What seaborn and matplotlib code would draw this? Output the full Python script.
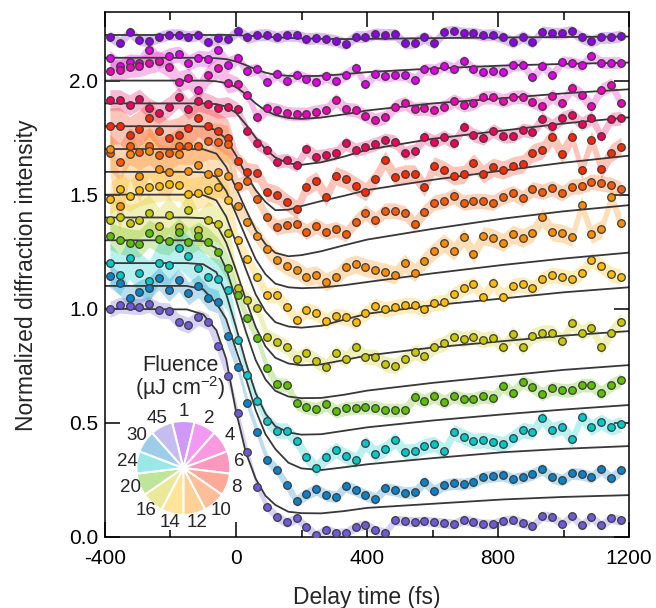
import numpy as np
import matplotlib
matplotlib.use("Agg")
import matplotlib.pyplot as plt
import seaborn as sns
from matplotlib.ticker import MultipleLocator

sns.set_theme(style="ticks")
plt.rcParams['font.family'] = ['Liberation Sans', 'DejaVu Sans']
plt.rcParams['mathtext.fontset'] = 'custom'
plt.rcParams['mathtext.rm'] = 'Liberation Sans'
plt.rcParams['mathtext.it'] = 'Liberation Sans:italic'

# ---------------- data ----------------
delay_fs = [-385, -355, -325, -295, -265, -235, -205, -175, -145, -115, -85, -55, -25,
            5, 35, 65, 95, 125, 155, 185, 215, 245, 275, 305, 335, 365, 395, 425, 455,
            485, 515, 545, 575, 605, 635, 665, 695, 725, 755, 785, 815, 845, 875, 905,
            935, 965, 995, 1025, 1055, 1085, 1115, 1145, 1175]

fluences = [1, 2, 4, 6, 8, 10, 12, 14, 16, 20, 24, 30, 45]
offsets = [1.2, 1.1, 1.0, 0.9, 0.8, 0.7, 0.6, 0.5, 0.4, 0.3, 0.2, 0.1, 0.0]
colors = ["#8B00E8", "#DD00E6", "#F000B4", "#F0005A", "#FF2A00", "#FF5A00", "#FF8C00",
          "#FFBB00", "#C8C800", "#5CBF00", "#00C8C8", "#0A82C8", "#6E5AD7"]

int_f1 = [0.993, 0.967, 1.012, 0.978, 0.975, 0.990, 1.002, 1.002, 0.993, 1.000, 0.968, 0.987, 0.981,
          1.018, 0.989, 1.000, 1.002, 0.990, 0.999, 0.998, 0.983, 0.987, 0.983, 0.975, 0.961, 0.993, 0.993,
          1.005, 1.002, 1.003, 0.964, 0.967, 0.990, 0.964, 1.012, 1.016, 1.008, 1.008, 0.999, 1.002,
          0.989, 0.968, 0.993, 0.968, 1.014, 1.008, 1.008, 1.016, 0.989, 0.972, 0.989, 0.989, 0.996]
int_f2 = [0.998, 0.964, 0.983, 0.979, 1.035, 0.988, 1.008, 1.017, 0.979, 0.998, 0.994, 1.032, 0.970,
          0.998, 0.942, 0.951, 0.896, 0.929, 0.899, 0.925, 0.908, 0.896, 0.918, 0.900, 0.925, 0.954, 0.886,
          0.929, 0.918, 0.925, 0.925, 0.904, 0.949, 0.947, 0.966, 0.953, 0.985, 0.949, 0.937, 0.944,
          0.937, 0.967, 0.970, 0.915, 0.966, 0.925, 0.983, 0.979, 0.967, 1.008, 0.979, 0.979, 0.979]
int_f4 = [1.044, 1.047, 1.059, 1.062, 1.076, 1.086, 1.059, 0.996, 1.010, 0.959, 1.025, 1.054, 0.990,
          0.986, 0.937, 0.839, 0.879, 0.871, 0.857, 0.854, 0.854, 0.864, 0.871, 0.915, 0.875, 0.871, 0.846,
          0.828, 0.839, 0.886, 0.901, 0.875, 0.879, 0.871, 0.886, 0.912, 0.893, 0.901, 0.927, 0.927,
          0.912, 0.927, 0.930, 0.908, 0.889, 0.933, 0.904, 0.967, 0.937, 0.889, 0.959, 0.981, 0.904]
int_f6 = [1.015, 1.015, 0.993, 1.018, 0.979, 0.957, 0.986, 1.026, 0.975, 1.012, 0.998, 0.979, 0.985,
          0.975, 0.879, 0.825, 0.796, 0.745, 0.752, 0.730, 0.799, 0.767, 0.774, 0.782, 0.825, 0.796, 0.808,
          0.822, 0.840, 0.832, 0.782, 0.793, 0.852, 0.832, 0.854, 0.828, 0.896, 0.862, 0.847, 0.881,
          0.857, 0.857, 0.884, 0.876, 0.931, 0.901, 0.935, 0.950, 0.911, 0.935, 0.857, 0.931, 0.935]
int_f8 = [1.000, 1.003, 0.960, 0.990, 1.035, 0.980, 0.947, 0.960, 0.991, 1.035, 1.000, 0.980, 0.950,
          0.849, 0.801, 0.794, 0.713, 0.700, 0.667, 0.636, 0.735, 0.761, 0.691, 0.783, 0.767, 0.740, 0.713,
          0.769, 0.852, 0.779, 0.791, 0.791, 0.732, 0.826, 0.808, 0.783, 0.789, 0.840, 0.791, 0.820,
          0.808, 0.826, 0.835, 0.882, 0.896, 0.954, 0.878, 0.952, 0.808, 0.940, 0.811, 0.882, 0.911]
int_f10 = [0.984, 0.945, 1.013, 0.989, 1.013, 0.974, 0.984, 1.013, 1.013, 1.013, 1.036, 1.033, 1.022,
           0.840, 0.860, 0.780, 0.700, 0.657, 0.667, 0.671, 0.638, 0.663, 0.638, 0.648, 0.628, 0.682, 0.721,
           0.689, 0.730, 0.730, 0.718, 0.671, 0.725, 0.765, 0.774, 0.794, 0.765, 0.772, 0.772, 0.765,
           0.791, 0.806, 0.784, 0.824, 0.813, 0.828, 0.806, 0.835, 0.838, 0.857, 0.850, 0.843, 0.824]
int_f12 = [1.100, 0.850, 1.080, 0.980, 1.090, 1.013, 1.000, 1.080, 1.005, 1.030, 0.990, 1.000, 0.980,
           0.850, 0.780, 0.720, 0.660, 0.614, 0.587, 0.570, 0.540, 0.548, 0.518, 0.538, 0.581, 0.596, 0.581,
           0.570, 0.560, 0.548, 0.599, 0.558, 0.611, 0.653, 0.687, 0.653, 0.713, 0.640, 0.720, 0.711,
           0.690, 0.726, 0.711, 0.731, 0.801, 0.737, 0.731, 0.713, 0.853, 0.726, 0.748, 0.889, 0.775]
int_f14 = [0.980, 1.024, 0.996, 1.021, 1.032, 1.039, 1.047, 1.042, 1.002, 1.009, 1.021, 1.035, 0.977,
           0.800, 0.720, 0.640, 0.560, 0.560, 0.509, 0.450, 0.494, 0.480, 0.446, 0.469, 0.462, 0.443, 0.480,
           0.512, 0.497, 0.506, 0.515, 0.515, 0.499, 0.526, 0.528, 0.563, 0.589, 0.607, 0.553, 0.611,
           0.553, 0.600, 0.607, 0.589, 0.630, 0.648, 0.640, 0.632, 0.658, 0.713, 0.687, 0.651, 0.640]
int_f16 = [0.989, 1.000, 0.976, 0.989, 1.020, 0.963, 1.011, 0.960, 1.033, 0.945, 0.990, 0.970, 0.930,
           0.689, 0.640, 0.602, 0.477, 0.455, 0.433, 0.379, 0.404, 0.371, 0.346, 0.404, 0.379, 0.433, 0.389,
           0.389, 0.357, 0.350, 0.379, 0.409, 0.393, 0.433, 0.448, 0.477, 0.466, 0.477, 0.463, 0.473,
           0.433, 0.489, 0.431, 0.480, 0.495, 0.495, 0.460, 0.539, 0.495, 0.517, 0.431, 0.495, 0.543]
int_f20 = [1.019, 1.001, 0.990, 0.985, 1.030, 1.004, 0.995, 1.038, 0.994, 1.020, 0.994, 0.950, 0.880,
           0.760, 0.658, 0.570, 0.441, 0.368, 0.365, 0.285, 0.268, 0.260, 0.281, 0.251, 0.263, 0.266, 0.270,
           0.267, 0.256, 0.256, 0.256, 0.314, 0.296, 0.317, 0.292, 0.317, 0.303, 0.303, 0.317, 0.310,
           0.361, 0.332, 0.380, 0.358, 0.326, 0.351, 0.343, 0.343, 0.365, 0.365, 0.332, 0.365, 0.387]
int_f24 = [0.999, 0.948, 1.021, 0.955, 0.922, 1.002, 0.990, 1.065, 1.030, 0.980, 0.938, 0.930, 0.880,
           0.663, 0.509, 0.396, 0.308, 0.266, 0.266, 0.221, 0.151, 0.100, 0.148, 0.180, 0.154, 0.136, 0.210,
           0.165, 0.185, 0.224, 0.173, 0.176, 0.198, 0.207, 0.176, 0.258, 0.239, 0.220, 0.224, 0.217,
           0.205, 0.234, 0.268, 0.261, 0.319, 0.268, 0.282, 0.227, 0.326, 0.280, 0.304, 0.280, 0.294]
int_f30 = [1.043, 1.011, 0.946, 0.975, 0.989, 1.033, 0.982, 1.026, 0.967, 1.000, 0.946, 0.931, 0.780,
           0.646, 0.485, 0.360, 0.239, 0.193, 0.127, 0.058, 0.087, 0.108, 0.083, 0.075, 0.122, 0.105, 0.083,
           0.068, 0.112, 0.105, 0.093, 0.097, 0.141, 0.102, 0.127, 0.134, 0.131, 0.141, 0.161, 0.166,
           0.171, 0.152, 0.161, 0.175, 0.196, 0.161, 0.149, 0.178, 0.175, 0.161, 0.196, 0.156, 0.193]
int_f45 = [0.997, 1.016, 1.012, 1.009, 1.019, 0.994, 0.991, 0.943, 0.928, 0.962, 0.943, 0.836, 0.705,
           0.544, 0.370, 0.220, 0.132, 0.088, 0.063, 0.081, 0.044, 0.007, 0.032, 0.015, 0.018, 0.044, 0.054,
           0.029, 0.018, 0.073, 0.070, 0.066, 0.070, 0.066, 0.061, 0.056, 0.076, 0.066, 0.056, 0.056,
           0.070, 0.076, 0.061, 0.047, 0.091, 0.088, 0.056, 0.091, 0.051, 0.085, 0.051, 0.081, 0.073]

# error-band half widths (before / after time zero)
err_pre = [0.025, 0.035, 0.045, 0.045, 0.08, 0.08, 0.11, 0.07, 0.08, 0.06, 0.09, 0.05, 0.035]
err_post = [0.026, 0.026, 0.03, 0.03, 0.04, 0.034, 0.04, 0.034, 0.034, 0.03, 0.034, 0.026, 0.022]

# fitted curves, sampled at fit_t
fit_t = [-400, -150, -100, -60, -30, 0, 30, 60, 90, 120, 160, 200, 260, 330, 400, 600, 815, 1000, 1200]
fit_f1 = [1, 1, 1, 1, 1, 0.999, 0.997, 0.995, 0.992, 0.990, 0.987, 0.985, 0.983, 0.982, 0.983, 0.986, 0.989, 0.991, 0.993]
fit_f2 = [1, 1, 1, 0.998, 0.994, 0.984, 0.968, 0.949, 0.935, 0.925, 0.921, 0.919, 0.921, 0.928, 0.937, 0.953, 0.966, 0.973, 0.979]
fit_f4 = [1, 1, 1, 0.997, 0.989, 0.972, 0.940, 0.900, 0.869, 0.849, 0.836, 0.832, 0.838, 0.852, 0.869, 0.900, 0.923, 0.944, 0.962]
fit_f6 = [1, 1, 1, 0.997, 0.986, 0.959, 0.908, 0.850, 0.799, 0.763, 0.737, 0.731, 0.742, 0.767, 0.797, 0.845, 0.881, 0.912, 0.939]
fit_f8 = [1, 1, 0.999, 0.983, 0.944, 0.872, 0.790, 0.720, 0.668, 0.632, 0.634, 0.650, 0.672, 0.695, 0.720, 0.765, 0.806, 0.840, 0.871]
fit_f10 = [1, 1, 0.999, 0.980, 0.922, 0.830, 0.735, 0.645, 0.583, 0.545, 0.530, 0.535, 0.552, 0.578, 0.603, 0.650, 0.695, 0.727, 0.754]
fit_f12 = [1, 1, 0.998, 0.978, 0.916, 0.816, 0.714, 0.617, 0.551, 0.510, 0.494, 0.490, 0.493, 0.503, 0.517, 0.555, 0.592, 0.620, 0.646]
fit_f14 = [1, 1, 0.998, 0.975, 0.904, 0.790, 0.674, 0.563, 0.488, 0.441, 0.422, 0.417, 0.425, 0.452, 0.478, 0.515, 0.545, 0.572, 0.594]
fit_f16 = [1, 1, 0.997, 0.970, 0.890, 0.770, 0.640, 0.520, 0.435, 0.385, 0.360, 0.352, 0.356, 0.375, 0.395, 0.430, 0.458, 0.482, 0.502]
fit_f20 = [1, 1, 0.996, 0.965, 0.875, 0.740, 0.600, 0.475, 0.390, 0.340, 0.315, 0.308, 0.309, 0.323, 0.341, 0.375, 0.406, 0.432, 0.453]
fit_f24 = [1, 1, 0.995, 0.960, 0.865, 0.720, 0.565, 0.430, 0.340, 0.285, 0.258, 0.248, 0.250, 0.265, 0.280, 0.310, 0.337, 0.358, 0.378]
fit_f30 = [1, 1, 0.985, 0.924, 0.855, 0.720, 0.595, 0.455, 0.350, 0.285, 0.225, 0.200, 0.193, 0.205, 0.218, 0.245, 0.271, 0.286, 0.298]
fit_f45 = [1, 0.997, 0.975, 0.906, 0.780, 0.550, 0.370, 0.255, 0.180, 0.140, 0.110, 0.104, 0.103, 0.113, 0.127, 0.145, 0.164, 0.175, 0.183]

series = [int_f1, int_f2, int_f4, int_f6, int_f8, int_f10, int_f12, int_f14, int_f16, int_f20, int_f24, int_f30, int_f45]
fits = [fit_f1, fit_f2, fit_f4, fit_f6, fit_f8, fit_f10, fit_f12, fit_f14, fit_f16, fit_f20, fit_f24, fit_f30, fit_f45]

# ---------------- figure ----------------
fig = plt.figure(figsize=(6.56, 6.08), dpi=100)
ax = fig.add_axes([0.160, 0.117, 0.799, 0.863])

t = np.array(delay_fs, dtype=float)
for k in range(len(fluences)):
    y = np.array(series[k]) + offsets[k]
    e = np.where(t < 0, err_pre[k], err_post[k])
    ax.fill_between(t, y - e, y + e, color=colors[k], alpha=0.27, lw=0, zorder=1)

for k in range(len(fluences)):
    fy = np.array(fits[k]) + offsets[k]
    sns.lineplot(x=fit_t, y=fy, color="#383838", lw=1.3, ax=ax, zorder=2,
                 estimator=None, sort=False, legend=False)

for k in range(len(fluences)):
    y = np.array(series[k]) + offsets[k]
    sns.scatterplot(x=t, y=y, color=colors[k], s=30, edgecolor="#3c3c3c",
                    linewidth=0.9, ax=ax, zorder=3, legend=False)

ax.set_xlim(-400, 1200)
ax.set_ylim(0, 2.3)
ax.xaxis.set_major_locator(MultipleLocator(400))
ax.xaxis.set_minor_locator(MultipleLocator(200))
ax.set_yticks([0.0, 0.5, 1.0, 1.5, 2.0])
ax.set_yticklabels(["0.0", "0.5", "1.0", "1.5", "2.0"])
ax.set_xticks([-400, 0, 400, 800, 1200])
ax.set_xticklabels(["-400", "0", "400", "800", "1200"])
ax.tick_params(axis="both", which="both", direction="in", top=True, right=True,
               colors="black", labelsize=15)
ax.tick_params(axis="both", which="major", length=10.8, width=1.1)
ax.tick_params(axis="x", which="minor", length=5.4, width=1.1)
ax.tick_params(axis="x", which="major", pad=9)
ax.tick_params(axis="y", which="major", pad=5)
for sp in ax.spines.values():
    sp.set_linewidth(1.1)
    sp.set_color("black")
ax.set_xlabel("")
ax.set_ylabel("")
fig.text(0.5595, 0.018, "Delay time (fs)", ha="center", va="center", fontsize=16.5)
fig.text(0.041, 0.548, "Normalized diffraction intensity", ha="center", va="center",
         rotation=90, fontsize=16.5)

# ---------------- fluence pie legend ----------------
pie_colors = []
for c in colors:
    rgb = np.array(matplotlib.colors.to_rgb(c))
    pie_colors.append(tuple(rgb * 0.4 + 0.6))
pax = fig.add_axes([0.2078, 0.153, 0.1433, 0.1546])
wedges, texts = pax.pie([1] * len(fluences), colors=pie_colors, startangle=90 + 180 / 13,
                        counterclock=False, labels=[str(f) for f in fluences],
                        labeldistance=1.2, radius=1.0,
                        wedgeprops=dict(edgecolor="white", linewidth=1.5),
                        textprops=dict(fontsize=13.5))
for tx in texts:
    tx.set_ha("center")
    tx.set_va("center")
pax.set_xlim(-1, 1)
pax.set_ylim(-1, 1)
pax.set_aspect("equal")
pax.axis("off")
fig.text(0.2755, 0.3903, "Fluence", ha="center", va="baseline", fontsize=15.5)
fig.text(0.2755, 0.350, "(µJ cm$^{-2}$)", ha="center", va="baseline", fontsize=15.5)

fig.savefig("out.png", dpi=100)
